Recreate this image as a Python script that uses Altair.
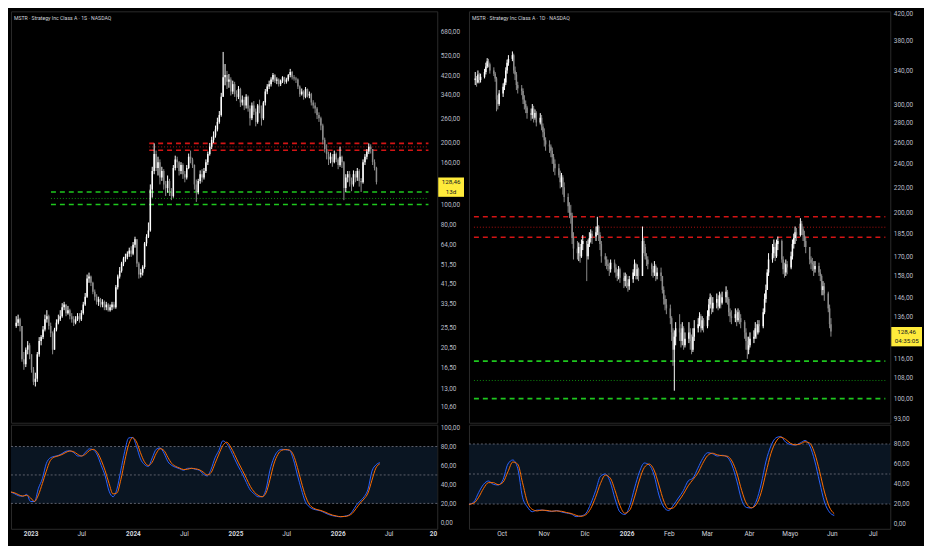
import pandas as pd
import altair as alt

# ------------------------------------------------------------------ data
# Left panel: weekly candles (1S), closes / highs / lows
w_close = [27, 28, 26, 18, 17, 20, 21, 19, 16, 14, 14.5, 19, 22, 23, 25, 28, 29, 26, 24, 20,
           25, 27, 28, 29, 32, 33, 30, 31, 29, 28, 27, 28, 29, 28, 30, 33, 36, 44, 45, 42,
           38, 36, 34, 35, 33, 34, 32, 33, 31, 32, 33, 32, 40, 45, 48, 52, 55, 56, 58, 60,
           58, 64, 68, 52, 46, 47, 50, 65, 70, 75, 118, 145, 175, 150, 160, 135, 145, 125, 120, 130,
           115, 110, 150, 165, 160, 145, 155, 140, 135, 150, 170, 165, 155, 125, 115, 130, 140, 135, 145, 160,
           175, 190, 205, 215, 230, 250, 270, 330, 410, 420, 390, 400, 350, 380, 340, 330, 360, 310, 320, 300,
           330, 290, 260, 300, 280, 250, 300, 290, 260, 310, 350, 370, 380, 400, 420, 395, 400, 380, 395, 410,
           390, 400, 420, 435, 410, 405, 400, 370, 340, 350, 330, 360, 335, 340, 310, 300, 290, 270, 260, 240,
           205, 185, 175, 165, 170, 160, 175, 165, 155, 170, 160, 120, 135, 140, 130, 125, 140, 135, 145, 130,
           128, 160, 170, 180, 190, 185, 160, 150, 128.46]
w_high = [29, 29.5, 28.5, 26, 19.5, 20.5, 22, 21.5, 19, 16.5, 15.5, 19.5, 23, 23.5, 26, 29.5, 31, 29.5, 27, 24.5,
          25.5, 28, 29.5, 31, 33.5, 34, 33, 32.5, 31.5, 30, 29, 29, 30, 30, 31, 34, 37.5, 46, 47, 45.5,
          42.5, 39, 37, 36, 35.5, 35, 34.5, 34, 33.5, 33, 34, 34, 41, 46, 50, 53, 56, 58, 59.5, 62,
          63, 66, 70, 67, 53, 49, 51, 66, 72, 82, 125, 152, 197, 182, 170, 165, 152, 148, 130, 138,
          133, 120, 155, 172, 170, 162, 160, 158, 145, 155, 176, 182, 168, 156, 132, 133, 146, 148, 150, 165,
          180, 198, 212, 225, 240, 262, 282, 345, 543, 475, 440, 425, 410, 395, 390, 355, 372, 365, 335, 330,
          340, 335, 300, 310, 315, 290, 305, 320, 300, 315, 360, 380, 395, 410, 430, 425, 410, 405, 400, 415,
          412, 408, 425, 450, 440, 420, 412, 405, 375, 362, 355, 368, 362, 350, 345, 318, 310, 295, 278, 265,
          245, 210, 195, 180, 178, 175, 182, 178, 168, 190, 172, 162, 140, 145, 145, 135, 146, 145, 150, 148,
          134, 165, 175, 185, 197, 195, 180, 165, 152]
w_low = [25.5, 26, 24.5, 17.5, 16, 16.5, 19, 18, 15.5, 13.5, 13.3, 14, 18.5, 21, 22.5, 24.5, 27, 25, 23, 19,
         20, 24.5, 26.5, 27.5, 28.5, 31, 29, 29.5, 28, 27, 26, 26.5, 27.5, 27, 27.5, 29.5, 32.5, 35.5, 42, 40.5,
         37, 34.5, 33, 32.5, 32, 32, 31, 31, 30.5, 30.5, 31, 31.5, 31.5, 39, 44, 47, 50.5, 53, 54.5, 56,
         56, 57, 62, 50, 44, 44.5, 45.5, 49, 63, 69, 74, 108, 140, 145, 138, 125, 130, 118, 110, 114,
         110, 105, 108, 146, 150, 138, 140, 133, 128, 132, 148, 158, 150, 118, 103, 112, 126, 128, 132, 142,
         155, 172, 185, 198, 210, 225, 245, 265, 330, 375, 360, 365, 335, 340, 330, 315, 322, 295, 300, 285,
         290, 280, 240, 255, 270, 238, 245, 275, 240, 255, 300, 340, 360, 370, 390, 385, 380, 370, 372, 385,
         380, 382, 392, 410, 400, 395, 385, 360, 330, 335, 320, 325, 328, 325, 300, 290, 275, 258, 250, 228,
         195, 178, 165, 155, 158, 152, 158, 160, 148, 152, 150, 105, 115, 128, 122, 116, 122, 128, 130, 122,
         115, 126, 155, 165, 175, 176, 155, 146, 125]

# Right panel: daily candles (1D), one row per week (Mon..Fri)
d_close_w = [
    [330, 325, 335, 328, 332], [338, 345, 352, 348, 340], [336, 330, 305, 300, 312],
    [320, 325, 340, 350, 355], [360, 340, 335, 322, 318], [315, 305, 300, 296, 290],
    [288, 295, 285, 290, 280], [285, 276, 270, 262, 258], [256, 252, 246, 240, 236],
    [230, 224, 228, 220, 212], [205, 200, 198, 182, 175], [172, 176, 170, 178, 180],
    [170, 178, 182, 185, 183], [186, 190, 184, 178, 170], [168, 165, 164, 162, 166],
    [163, 160, 158, 162, 157], [155, 158, 154, 152, 156], [160, 165, 158, 162, 158],
    [180, 176, 170, 168, 165], [162, 160, 164, 158, 160], [158, 150, 145, 142, 140],
    [135, 128, 120, 126, 130], [128, 124, 130, 122, 125], [128, 124, 120, 126, 130],
    [132, 136, 130, 134, 131], [136, 142, 146, 140, 143], [145, 141, 147, 143, 146],
    [149, 145, 138, 136, 135], [137, 134, 138, 135, 133], [128, 124, 120, 122, 125],
    [126, 130, 128, 132, 131], [138, 145, 150, 160, 168], [172, 176, 170, 178, 180],
    [168, 162, 160, 165, 163], [170, 178, 182, 186, 184], [192, 188, 184, 180, 176],
    [168, 166, 165, 162, 164], [160, 158, 150, 152, 148], [140, 132, 128.46]]
d_high_w = [
    [338, 333, 340, 337, 336], [342, 350, 356, 355, 350], [344, 338, 332, 310, 316],
    [324, 330, 344, 354, 360], [365, 362, 345, 338, 326], [322, 318, 310, 304, 298],
    [295, 300, 298, 294, 292], [290, 288, 279, 274, 265], [262, 258, 255, 249, 244],
    [240, 234, 232, 230, 224], [215, 208, 206, 200, 186], [180, 179, 178, 181, 184],
    [180, 181, 186, 188, 187], [190, 197, 191, 186, 180], [172, 170, 168, 166, 168],
    [168, 165, 162, 164, 163], [160, 160, 159, 156, 158], [162, 168, 166, 165, 163],
    [190, 182, 178, 172, 170], [166, 164, 167, 165, 163], [163, 158, 152, 147, 145],
    [142, 136, 130, 129, 133], [137, 132, 133, 131, 128], [133, 130, 127, 130, 134],
    [135, 138, 137, 136, 135], [139, 145, 148, 147, 146], [148, 147, 149, 148, 149],
    [152, 150, 146, 140, 139], [140, 139, 140, 139, 137], [134, 130, 126, 126, 128],
    [129, 133, 132, 134, 134], [140, 148, 153, 162, 172], [178, 181, 179, 181, 183],
    [181, 170, 166, 168, 167], [173, 181, 185, 190, 189], [196, 194, 190, 187, 183],
    [176, 170, 169, 167, 167], [166, 162, 159, 155, 154], [149, 142, 135]]
d_low_w = [
    [322, 320, 324, 324, 325], [330, 335, 343, 344, 336], [333, 326, 292, 294, 298],
    [308, 316, 322, 336, 346], [352, 336, 328, 316, 312], [310, 300, 294, 290, 284],
    [282, 284, 280, 283, 276], [278, 272, 265, 256, 252], [250, 246, 240, 233, 230],
    [228, 219, 220, 214, 208], [200, 196, 192, 178, 168], [168, 167, 166, 169, 174],
    [155, 168, 176, 179, 178], [180, 184, 180, 174, 166], [164, 162, 161, 158, 160],
    [160, 157, 155, 156, 154], [151, 152, 151, 149, 150], [154, 158, 156, 156, 155],
    [160, 172, 168, 164, 162], [158, 157, 158, 155, 156], [155, 148, 142, 139, 137],
    [132, 124, 113, 103, 122], [124, 121, 122, 120, 121], [123, 120, 118, 119, 124],
    [128, 131, 128, 129, 128], [130, 134, 140, 137, 138], [140, 139, 140, 140, 142],
    [143, 142, 136, 133, 132], [133, 131, 133, 132, 130], [125, 120, 116, 118, 121],
    [123, 125, 125, 127, 128], [130, 137, 143, 150, 158], [166, 169, 167, 169, 174],
    [166, 159, 157, 158, 159], [162, 168, 175, 178, 180], [183, 184, 180, 176, 172],
    [165, 162, 161, 158, 160], [158, 155, 147, 147, 144], [138, 130, 126]]

# Stochastic RSI %K, sampled every 2 weeks (left) and every ~3.6 days (right)
left_k = [32, 30, 28, 27.5, 29.5, 22, 22, 36, 46, 62, 68, 69.5, 70.5, 72.5, 75, 75.5, 73.5, 70, 70, 74,
          77.5, 76.5, 71, 60, 49, 33, 27, 35, 55, 75, 89, 89.5, 80, 67, 61, 59, 68, 77, 78.5, 73,
          64, 60, 58, 56.5, 55, 57, 57, 56, 55, 51, 49, 56, 68, 76, 86, 83, 76, 67, 58.5, 51,
          42, 34, 30, 27, 27, 35, 55, 68, 75, 77, 76.6, 75.8, 66, 50, 35, 22, 16.5, 14, 13, 12,
          10, 8.2, 7, 6.3, 5.8, 6.5, 7.5, 11.5, 18, 22.5, 27, 35, 54, 60.5, 63]
right_k = [19.7, 22, 31.6, 39.7, 43, 39.7, 39, 44.5, 60, 64, 55.8, 26.8, 17, 12.3, 13.9, 13.9, 13.2, 12.5,
           13.5, 12, 11, 10, 7.4, 8, 10.6, 20.3, 33.2, 47.7, 50, 42, 25, 12, 9.5, 18, 36, 52, 61, 59,
           49, 29, 17, 13.5, 19, 26, 33.2, 43, 46, 55.8, 65.5, 71.3, 70.3, 68, 68.7, 67, 59, 43, 24,
           16.5, 16, 23, 40, 63, 78, 86, 87.5, 82, 79.5, 79, 81, 83.5, 78, 63, 42, 22, 12, 8.5]

# Support / resistance levels
res_levels = [197, 189.5, 182.5]
sup_levels = [115, 107, 100]
last_price = 128.46

left_ticks = [10.6, 13, 16.5, 20.5, 25.5, 33.5, 41.5, 51.5, 64, 80, 100, 160, 200, 260, 340, 420, 520, 680]
right_ticks = [93, 100, 108, 116, 136, 146, 158, 170, 185, 200, 220, 240, 260, 280, 300, 340, 380, 420]

# ------------------------------------------------------------------ frames
UP, DOWN = "#ffffff", "#8c8c8c"


def candles(dates, close, high, low, first_open):
    opens = [first_open] + list(close[:-1])
    df = pd.DataFrame({"date": dates, "open": opens, "close": close, "high": high, "low": low})
    df["high"] = df[["high", "open", "close"]].max(axis=1)
    df["low"] = df[["low", "open", "close"]].min(axis=1)
    df["col"] = [UP if c >= o else DOWN for o, c in zip(df["open"], df["close"])]
    return df


n_w = min(len(w_close), len(w_high), len(w_low))
wk = candles(pd.date_range("2022-10-24", periods=n_w, freq="7D"),
             w_close[:n_w], w_high[:n_w], w_low[:n_w], 26)

d_close = [v for wk_ in d_close_w for v in wk_]
d_high = [v for wk_ in d_high_w for v in wk_]
d_low = [v for wk_ in d_low_w for v in wk_]
n_d = min(len(d_close), len(d_high), len(d_low))
dy = candles(pd.bdate_range("2025-09-08", periods=n_d), d_close[:n_d], d_high[:n_d], d_low[:n_d], 328)

lk = pd.DataFrame({"date": pd.date_range("2022-10-23", periods=len(left_k), freq="14D"), "k": left_k})
lk["d"] = lk["k"].rolling(2, min_periods=1).mean()
rk = pd.DataFrame({"date": pd.date_range("2025-09-07", periods=len(right_k), freq="86h"), "k": right_k})
rk["d"] = rk["k"].rolling(2, min_periods=1).mean()

# level styles: (color, dash, width)
STY = {
    "r_dash": ("#d41414", [5, 4], 1.6),
    "r_dot": ("#b01010", [1, 2], 1.0),
    "g_dash": ("#1ec81e", [5, 4], 1.6),
    "g_dot": ("#0d8a0d", [1, 2], 1.0),
}
kinds = ["r_dash", "r_dot", "r_dash", "g_dash", "g_dot", "g_dash"]
levels = res_levels + sup_levels
left_lines = pd.DataFrame({
    "level": levels, "kind": kinds,
    "start": ["2024-02-22"] * 3 + ["2023-02-28"] * 3,
    "end": ["2026-12-08"] * 6})
right_lines = pd.DataFrame({
    "level": levels, "kind": kinds,
    "start": ["2025-09-07"] * 6, "end": ["2026-07-14"] * 6})

# ------------------------------------------------------------------ style
W_L, AX_L, W_R, AX_R = 430, 28, 425, 33
H_P, H_O, AX_X = 415, 105, 14
FONT = "Roboto"
LBL = "#b8bcc6"
num_expr = "replace(format(datum.value, '.2f'), '.', ',')"
col_enc = alt.Color("col:N", scale=None, legend=None)


def y_axis(ticks, ext):
    return alt.Axis(orient="right", values=ticks, labelExpr=num_expr, title=None, grid=False,
                    ticks=False, domain=False, labelColor=LBL, labelFontSize=6.5, labelFont=FONT,
                    labelPadding=3, minExtent=ext, maxExtent=ext, labelOverlap=False, labelFlush=False)


month_expr = ("month(datum.value) == 0 ? timeFormat(datum.value, '%Y') : "
              "['Ene','Feb','Mar','Abr','Mayo','Jun','Jul','Ago','Sept','Oct','Nov','Dic'][month(datum.value)]")


def date_axis(values):
    return alt.Axis(values=values, labelExpr=month_expr, title=None, grid=False, ticks=False,
                    domain=False, labelColor="#d1d4dc", labelFontSize=6.5, labelFont=FONT,
                    labelPadding=2, labelFlush=False, labelOverlap=False,
                    labelFontWeight={"condition": {"test": "month(datum.value) == 0", "value": "bold"},
                                     "value": "normal"},
                    minExtent=AX_X, maxExtent=AX_X)


def price_panel(df, lines, x_dom, y_dom, ticks, W, AX, title, tag2):
    xs = alt.Scale(domain=x_dom)
    ys = alt.Scale(type="log", domain=y_dom, nice=False, zero=False)
    ax = y_axis(ticks, AX)
    X = alt.X("date:T", scale=xs, axis=None)
    base = alt.Chart(df)
    wick = base.mark_rule(strokeWidth=1).encode(x=X, y=alt.Y("low:Q", scale=ys, axis=ax), y2="high:Q",
                                                 color=col_enc)
    body = base.mark_bar(size=1.5).encode(x=X, y=alt.Y("open:Q", scale=ys, axis=ax), y2="close:Q",
                                          color=col_enc)
    lvl_layers = []
    for kind, (c, dash, sw) in STY.items():
        sub = lines[lines["kind"] == kind]
        lvl_layers.append(alt.Chart(sub).mark_rule(color=c, strokeDash=dash, strokeWidth=sw).encode(
            x=alt.X("start:T", scale=xs, axis=None), x2="end:T",
            y=alt.Y("level:Q", scale=ys, axis=ax)))
    tagdf = pd.DataFrame({"p": [last_price], "t1": ["128,46"], "t2": [tag2]})
    tag = alt.Chart(tagdf).mark_rect(color="#ffeb3b", yOffset=-4.5, y2Offset=15).encode(
        x=alt.value(W + 1), x2=alt.value(W + AX - 1), y=alt.Y("p:Q", scale=ys, axis=ax), y2="p:Q")
    t1 = alt.Chart(tagdf).mark_text(color="#131722", fontSize=6.3, font=FONT, align="center",
                                    baseline="middle", dy=0.5).encode(
        x=alt.value(W + AX / 2), y=alt.Y("p:Q", scale=ys, axis=ax), text="t1:N")
    t2 = alt.Chart(tagdf).mark_text(color="#131722", fontSize=6.3, font=FONT, align="center",
                                    baseline="middle", dy=10).encode(
        x=alt.value(W + AX / 2), y=alt.Y("p:Q", scale=ys, axis=ax), text="t2:N")
    ttl = alt.Chart(pd.DataFrame({"t": [title]})).mark_text(
        color="#d1d4dc", fontSize=5.2, font=FONT, align="left", baseline="middle").encode(
        x=alt.value(3), y=alt.value(7), text="t:N")
    return alt.layer(*lvl_layers, wick, body, tag, t1, t2, ttl).properties(width=W, height=H_P)


def osc_panel(kdf, x_dom, y_dom, ticks, W, AX, xvals, extra=None):
    xs = alt.Scale(domain=x_dom)
    ys = alt.Scale(domain=y_dom, nice=False, zero=False)
    ax = y_axis(ticks, AX)
    xa = date_axis(xvals)
    X = alt.X("date:T", scale=xs, axis=xa)
    band = alt.Chart(pd.DataFrame({"lo": [20], "hi": [80]})).mark_rect(color="#0a1522").encode(
        x=alt.value(0), x2=alt.value(W), y=alt.Y("hi:Q", scale=ys, axis=ax), y2="lo:Q")
    rules = alt.Chart(pd.DataFrame({"lvl": [20, 50, 80]})).mark_rule(
        color="#5d606b", strokeDash=[2, 2], strokeWidth=1).encode(
        x=alt.value(0), x2=alt.value(W), y=alt.Y("lvl:Q", scale=ys, axis=ax))
    kline = alt.Chart(kdf).mark_line(color="#2962ff", strokeWidth=1, interpolate="monotone").encode(
        x=X, y=alt.Y("k:Q", scale=ys, axis=ax))
    dline = alt.Chart(kdf).mark_line(color="#ff6d00", strokeWidth=1, interpolate="monotone").encode(
        x=X, y=alt.Y("d:Q", scale=ys, axis=ax))
    layers = [band, rules, kline, dline]
    if extra is not None:
        layers.append(extra)
    return alt.layer(*layers).properties(width=W, height=H_O)


dt = alt.DateTime
left_xdom = [dt(year=2022, month=10, date=23), dt(year=2026, month=12, date=22)]
right_xdom = [dt(year=2025, month=9, date=7), dt(year=2026, month=7, date=14)]

left_xvals = [dt(year=y, month=m, date=1) for y in [2023, 2024, 2025, 2026] for m in [1, 7]]
right_xvals = [dt(year=2025, month=m, date=1) for m in [10, 11, 12]] + \
              [dt(year=2026, month=m, date=1) for m in [1, 2, 3, 4, 5, 6, 7]]

cut_label = alt.Chart(pd.DataFrame({"t": ["20"]})).mark_text(
    color="#d1d4dc", fontSize=6.5, font=FONT, fontWeight="bold", align="right", baseline="top").encode(
    x=alt.value(W_L), y=alt.value(H_O + 2), text="t:N")

left_price = price_panel(wk, left_lines, left_xdom, [8.9, 852], left_ticks, W_L, AX_L,
                         "MSTR · Strategy Inc Class A · 1S · NASDAQ", "13d")
right_price = price_panel(dy, right_lines, right_xdom, [91.4, 423.9], right_ticks, W_R, AX_R,
                          "MSTR · Strategy Inc Class A · 1D · NASDAQ", "04:35:05")
left_osc = osc_panel(lk, left_xdom, [-6.8, 103], [0, 20, 40, 60, 80, 100], W_L, AX_L, left_xvals, cut_label)
right_osc = osc_panel(rk, right_xdom, [-4.8, 99.3], [0, 20, 40, 60, 80], W_R, AX_R, right_xvals)

chart = alt.hconcat(
    alt.vconcat(left_price, left_osc, spacing=0),
    alt.vconcat(right_price, right_osc, spacing=0),
    spacing=0,
).properties(background="#000000", padding=0).configure_view(stroke="#2a2a2a", strokeWidth=1)

chart.save("out.html", embed_options={"renderer": "svg", "actions": False})
